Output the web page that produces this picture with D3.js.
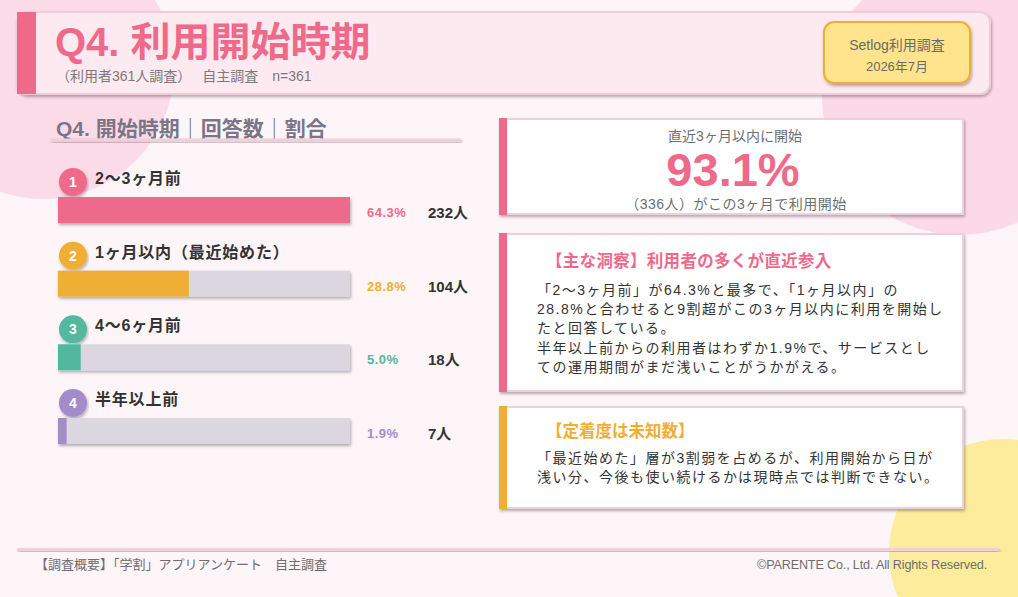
<!DOCTYPE html>
<html>
<head>
<meta charset="utf-8">
<script src="https://cdn.jsdelivr.net/npm/d3@7"></script>
<style>
  body { margin: 0; background: #fdf5f8; }
  svg { display: block; font-family: "Liberation Sans", "Noto Sans CJK JP", sans-serif; }
</style>
</head>
<body>
<script>
var width = 1018, height = 597;

// data
var categories = ["2〜3ヶ月前", "1ヶ月以内（最近始めた）", "4〜6ヶ月前", "半年以上前"];
var percents = [64.3, 28.8, 5.0, 1.9];
var counts = [232, 104, 18, 7];
var barColors = ["#ef6a8a", "#f0ae34", "#52b89d", "#a48ccb"];

var insight1 = [
  "「2〜3ヶ月前」が64.3%と最多で、「1ヶ月以内」の",
  "28.8%と合わせると9割超がこの3ヶ月以内に利用を開始し",
  "たと回答している。",
  "半年以上前からの利用者はわずか1.9%で、サービスとし",
  "ての運用期間がまだ浅いことがうかがえる。"
];
var insight2 = [
  "「最近始めた」層が3割弱を占めるが、利用開始から日が",
  "浅い分、今後も使い続けるかは現時点では判断できない。"
];

var pink = "#ef6a8a", orange = "#f0ae34";

var svg = d3.select("body").append("svg")
    .attr("width", width)
    .attr("height", height);

var defs = svg.append("defs");
var f = defs.append("filter").attr("id", "shadow")
    .attr("x", "-5%").attr("y", "-20%").attr("width", "110%").attr("height", "150%");
f.append("feDropShadow").attr("dx", 1).attr("dy", 2).attr("stdDeviation", 1.5)
    .attr("flood-color", "#000").attr("flood-opacity", 0.3);

// background blobs
svg.append("rect").attr("width", width).attr("height", height).attr("fill", "#fdf5f8");
svg.append("circle").attr("cx", 43).attr("cy", 68).attr("r", 131).attr("fill", "#fcdbe8");
svg.append("circle").attr("cx", 960).attr("cy", 97).attr("r", 138).attr("fill", "#fcd9e7");
svg.append("circle").attr("cx", 1003).attr("cy", 553).attr("r", 114).attr("fill", "#fdec9c");

// header
var header = svg.append("g");
header.append("rect")
    .attr("x", 17).attr("y", 12).attr("width", 973).attr("height", 82)
    .attr("rx", 10)
    .attr("fill", "#fde9f0").attr("stroke", "#f0cbd8").attr("stroke-width", 2)
    .attr("filter", "url(#shadow)");
header.append("rect")
    .attr("x", 17).attr("y", 12).attr("width", 19).attr("height", 82)
    .attr("fill", pink);
header.append("text")
    .attr("x", 55).attr("y", 56)
    .attr("font-size", 40).attr("font-weight", "bold").attr("fill", pink)
    .text("Q4. 利用開始時期");
header.append("text")
    .attr("x", 56).attr("y", 81)
    .attr("font-size", 14).attr("fill", "#7b7b7b")
    .attr("xml:space", "preserve")
    .text("（利用者361人調査）　 自主調査　n=361");

var badge = svg.append("g");
badge.append("rect")
    .attr("x", 824).attr("y", 22).attr("width", 146).attr("height", 61)
    .attr("rx", 10)
    .attr("fill", "#ffe38d").attr("stroke", "#f0ad34").attr("stroke-width", 2)
    .attr("filter", "url(#shadow)");
badge.append("text").attr("x", 897).attr("y", 50)
    .attr("text-anchor", "middle").attr("font-size", 14).attr("fill", "#6b6b6b")
    .text("Setlog利用調査");
badge.append("text").attr("x", 897).attr("y", 71)
    .attr("text-anchor", "middle").attr("font-size", 13).attr("fill", "#6b6b6b")
    .text("2026年7月");

// section heading
svg.append("text")
    .attr("x", 56).attr("y", 136)
    .attr("font-size", 21).attr("font-weight", "bold").attr("fill", "#7a7587")
    .text("Q4. 開始時期｜回答数｜割合");
svg.append("rect")
    .attr("x", 51).attr("y", 138.5).attr("width", 410).attr("height", 3)
    .attr("fill", "#f2cdda").attr("filter", "url(#shadow)");

// bars
var x = d3.scaleLinear()
    .domain([0, d3.max(percents)])
    .range([58, 350]);

var y = d3.scalePoint()
    .domain(categories)
    .range([197, 418]);

var barH = 26;

var items = svg.selectAll("g.item")
    .data(categories)
    .enter()
    .append("g")
    .attr("class", "item")
    .attr("transform", function(d) { return "translate(0," + y(d) + ")"; });

items.append("circle")
    .attr("cx", 73).attr("cy", -15).attr("r", 14)
    .attr("fill", function(d, i) { return barColors[i]; })
    .attr("filter", "url(#shadow)");
items.append("text")
    .attr("x", 73).attr("y", -10)
    .attr("text-anchor", "middle")
    .attr("font-size", 14).attr("font-weight", "bold").attr("fill", "#fff")
    .text(function(d, i) { return i + 1; });
items.append("text")
    .attr("x", 95).attr("y", -13)
    .attr("font-size", 16).attr("font-weight", "bold").attr("fill", "#333")
    .attr("letter-spacing", 0.8)
    .text(function(d) { return d; });

items.append("rect")
    .attr("x", x(0)).attr("y", 0)
    .attr("width", x(d3.max(percents)) - x(0)).attr("height", barH)
    .attr("fill", "#dcd6e1")
    .attr("filter", "url(#shadow)");
items.append("rect")
    .attr("x", x(0)).attr("y", 0)
    .attr("width", function(d, i) { return x(percents[i]) - x(0); })
    .attr("height", barH)
    .attr("fill", function(d, i) { return barColors[i]; });

items.append("text")
    .attr("x", 367).attr("y", 20)
    .attr("font-size", 13).attr("font-weight", "bold")
    .attr("letter-spacing", 0.5)
    .attr("fill", function(d, i) { return barColors[i]; })
    .text(function(d, i) { return percents[i].toFixed(1) + "%"; });
items.append("text")
    .attr("x", 428).attr("y", 21)
    .attr("font-size", 15).attr("font-weight", "bold").attr("fill", "#333")
    .text(function(d, i) { return counts[i] + "人"; });

// right panels
function panel(px, py, pw, ph, accent) {
  var g = svg.append("g");
  g.append("rect")
      .attr("x", px).attr("y", py).attr("width", pw).attr("height", ph)
      .attr("fill", "#fff").attr("stroke", "#f0cfdb").attr("stroke-width", 2)
      .attr("filter", "url(#shadow)");
  g.append("rect")
      .attr("x", px - 1).attr("y", py - 1).attr("width", 8).attr("height", ph + 2)
      .attr("fill", accent);
  return g;
}

var p1 = panel(500, 119, 463, 95, pink);
p1.append("text").attr("x", 735).attr("y", 141)
    .attr("text-anchor", "middle").attr("font-size", 14).attr("fill", "#6e6e6e")
    .text("直近3ヶ月以内に開始");
p1.append("text").attr("x", 733).attr("y", 186)
    .attr("text-anchor", "middle").attr("font-size", 47).attr("font-weight", "bold").attr("fill", pink)
    .text(percents.slice(0, 2).reduce(function(a, b) { return a + b; }).toFixed(1) + "%");
p1.append("text").attr("x", 736).attr("y", 209)
    .attr("text-anchor", "middle").attr("font-size", 14).attr("fill", "#6e6e6e")
    .attr("letter-spacing", 0.5)
    .text("（" + (counts[0] + counts[1]) + "人）がこの3ヶ月で利用開始");

var p2 = panel(500, 234, 463, 157, pink);
p2.append("text").attr("x", 546).attr("y", 267)
    .attr("font-size", 16.5).attr("font-weight", "bold").attr("fill", pink)
    .attr("letter-spacing", 0.3)
    .text("【主な洞察】利用者の多くが直近参入");
p2.selectAll("text.body")
    .data(insight1)
    .enter()
    .append("text")
    .attr("class", "body")
    .attr("x", 537)
    .attr("y", function(d, i) { return 295 + i * 19.2; })
    .attr("font-size", 14).attr("fill", "#333").attr("letter-spacing", 1.5)
    .text(function(d) { return d; });

var p3 = panel(500, 407, 463, 101, orange);
p3.append("text").attr("x", 546).attr("y", 437)
    .attr("font-size", 16.5).attr("font-weight", "bold").attr("fill", orange)
    .text("【定着度は未知数】");
p3.selectAll("text.body")
    .data(insight2)
    .enter()
    .append("text")
    .attr("class", "body")
    .attr("x", 537)
    .attr("y", function(d, i) { return 463 + i * 19.2; })
    .attr("font-size", 14).attr("fill", "#333").attr("letter-spacing", 1.5)
    .text(function(d) { return d; });

// footer
svg.append("rect")
    .attr("x", 17).attr("y", 548).attr("width", 982).attr("height", 3)
    .attr("fill", "#f0d0dc").attr("filter", "url(#shadow)");
svg.append("text").attr("x", 35).attr("y", 569)
    .attr("font-size", 13).attr("fill", "#6e6e6e")
    .attr("xml:space", "preserve")
    .text("【調査概要】「学割」アプリアンケート　自主調査");
svg.append("text").attr("x", 987).attr("y", 569)
    .attr("text-anchor", "end").attr("font-size", 12.6).attr("fill", "#6e6e6e")
    .attr("letter-spacing", -0.15)
    .text("©PARENTE Co., Ltd. All Rights Reserved.");
</script>
</body>
</html>
